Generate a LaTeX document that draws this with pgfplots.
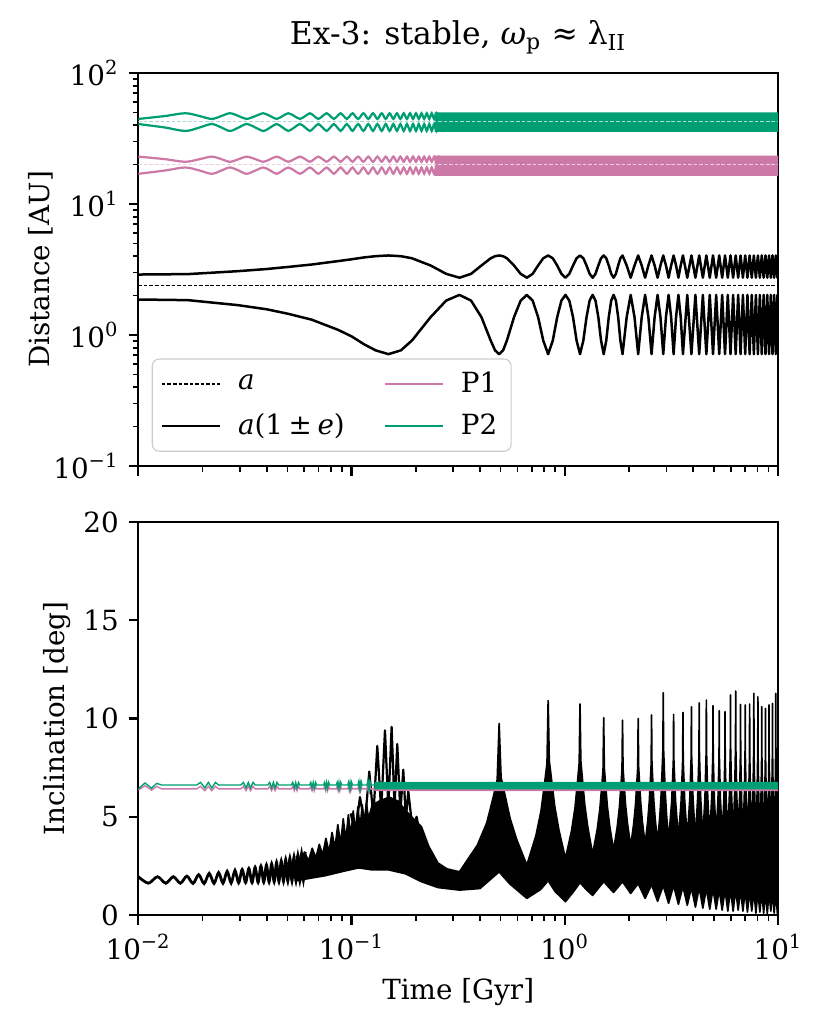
\documentclass[border=0pt]{standalone}
\usepackage{fontspec}
\setmainfont{DejaVu Serif}
\usepackage{pgfplots}
\pgfplotsset{compat=1.18}
\usepackage{pgfplotstable}
\definecolor{pone}{HTML}{CC79A7}
\definecolor{ptwo}{HTML}{009E73}

% a(1+e), a(1-e) of the inner body (AU)
\pgfplotstableread{
t up lo
0.0100 2.894 1.866
0.0171 2.916 1.845
0.0293 3.070 1.690
0.0400 3.189 1.571
0.0504 3.308 1.452
0.0650 3.451 1.309
0.0864 3.665 1.095
0.1000 3.784 0.976
0.1150 3.915 0.845
0.1300 3.998 0.762
0.1490 4.046 0.714
0.1704 3.996 0.764
0.1919 3.853 0.907
0.2348 3.392 1.369
0.2776 2.930 1.830
0.3205 2.737 2.023
0.3634 2.930 1.830
0.4063 3.392 1.369
0.4491 3.853 0.907
0.4706 3.996 0.764
0.4920 4.046 0.714
0.5134 3.996 0.764
0.5349 3.853 0.907
0.5778 3.392 1.369
0.6206 2.930 1.830
0.6635 2.737 2.023
0.7064 2.930 1.830
0.7493 3.392 1.369
0.7921 3.853 0.907
0.8350 4.046 0.714
0.8779 3.853 0.907
0.9208 3.392 1.369
0.9636 2.930 1.830
1.0065 2.737 2.023
1.0494 2.930 1.830
1.0923 3.392 1.369
1.1351 3.853 0.907
1.1780 4.046 0.714
1.2209 3.853 0.907
1.2638 3.392 1.369
1.3066 2.930 1.830
1.3495 2.737 2.023
1.3924 2.930 1.830
1.4353 3.392 1.369
1.4781 3.853 0.907
1.5210 4.046 0.714
1.5639 3.853 0.907
1.6068 3.392 1.369
1.6496 2.930 1.830
1.6925 2.737 2.023
1.7354 2.930 1.830
1.7783 3.392 1.369
1.8211 3.853 0.907
1.8640 4.046 0.714
1.9498 3.392 1.369
2.0355 2.737 2.023
2.1213 3.392 1.369
2.2070 4.046 0.714
2.2928 3.392 1.369
2.3785 2.737 2.023
2.4643 3.392 1.369
2.5500 4.046 0.714
2.6358 3.392 1.369
2.7215 2.737 2.023
2.8073 3.392 1.369
2.8930 4.046 0.714
2.9788 3.392 1.369
3.0645 2.737 2.023
3.1503 3.392 1.369
3.2360 4.046 0.714
3.3218 3.392 1.369
3.4075 2.737 2.023
3.4933 3.392 1.369
3.5790 4.046 0.714
3.7505 2.737 2.023
3.9220 4.046 0.714
4.0935 2.737 2.023
4.2650 4.046 0.714
4.4365 2.737 2.023
4.6080 4.046 0.714
4.7795 2.737 2.023
4.9510 4.046 0.714
5.1225 2.737 2.023
5.2940 4.046 0.714
5.4655 2.737 2.023
5.6370 4.046 0.714
5.8085 2.737 2.023
5.9800 4.046 0.714
6.1515 2.737 2.023
6.3230 4.046 0.714
6.4945 2.737 2.023
6.6660 4.046 0.714
6.8375 2.737 2.023
7.0090 4.046 0.714
7.1805 2.737 2.023
7.3520 4.046 0.714
7.5235 2.737 2.023
7.6950 4.046 0.714
7.8665 2.737 2.023
8.0380 4.046 0.714
8.2095 2.737 2.023
8.3810 4.046 0.714
8.5525 2.737 2.023
8.7240 4.046 0.714
8.8955 2.737 2.023
9.0670 4.046 0.714
9.2385 2.737 2.023
9.4100 4.046 0.714
9.5815 2.737 2.023
9.7530 4.046 0.714
9.9245 2.737 2.023
10.000 3.270 1.490
}\ecc

% P1, P2 distances (AU), early oscillation
\pgfplotstableread{
t p2u p2l p1u p1l
0.0100 44.6 40.8 23.0 17.0
0.0133 46.9 38.4 22.0 18.0
0.0166 49.3 36.1 21.0 19.0
0.0194 46.9 38.4 22.0 18.0
0.0221 44.6 40.8 23.0 17.0
0.0245 46.9 38.4 22.0 18.0
0.0269 49.3 36.1 21.0 19.0
0.0296 46.9 38.4 22.0 18.0
0.0322 44.6 40.8 23.0 17.0
0.0354 46.9 38.4 22.0 18.0
0.0386 49.3 36.1 21.0 19.0
0.0416 46.9 38.4 22.0 18.0
0.0445 44.6 40.8 23.0 17.0
0.0475 46.9 38.4 22.0 18.0
0.0505 49.3 36.1 21.0 19.0
0.0539 46.9 38.4 22.0 18.0
0.0573 44.6 40.8 23.0 17.0
0.0606 46.9 38.4 22.0 18.0
0.0638 49.3 36.1 21.0 19.0
0.0668 46.9 38.4 22.0 18.0
0.0698 44.6 40.8 23.0 17.0
0.0731 46.9 38.4 22.0 18.0
0.0764 49.3 36.1 21.0 19.0
0.0795 46.9 38.4 22.0 18.0
0.0826 44.6 40.8 23.0 17.0
0.0857 46.9 38.4 22.0 18.0
0.0888 49.3 36.1 21.0 19.0
0.0919 46.9 38.4 22.0 18.0
0.0950 44.6 40.8 23.0 17.0
0.0981 46.9 38.4 22.0 18.0
0.1012 49.3 36.1 21.0 19.0
0.1074 44.6 40.8 23.0 17.0
0.1136 49.3 36.1 21.0 19.0
0.1198 44.6 40.8 23.0 17.0
0.1260 49.3 36.1 21.0 19.0
0.1322 44.6 40.8 23.0 17.0
0.1384 49.3 36.1 21.0 19.0
0.1446 44.6 40.8 23.0 17.0
0.1508 49.3 36.1 21.0 19.0
0.1570 44.6 40.8 23.0 17.0
0.1632 49.3 36.1 21.0 19.0
0.1694 44.6 40.8 23.0 17.0
0.1756 49.3 36.1 21.0 19.0
0.1818 44.6 40.8 23.0 17.0
0.1880 49.3 36.1 21.0 19.0
0.1942 44.6 40.8 23.0 17.0
0.2004 49.3 36.1 21.0 19.0
0.2066 44.6 40.8 23.0 17.0
0.2128 49.3 36.1 21.0 19.0
0.2190 44.6 40.8 23.0 17.0
0.2252 49.3 36.1 21.0 19.0
0.2314 44.6 40.8 23.0 17.0
0.2376 49.3 36.1 21.0 19.0
0.2438 44.6 40.8 23.0 17.0
0.2500 49.3 36.1 21.0 19.0
0.2562 44.6 40.8 23.0 17.0
0.2624 49.3 36.1 21.0 19.0
}\pdist

% P1, P2 inclinations (deg), early bursts
\pgfplotstableread{
t g p
0.01000 6.42 6.36
0.01075 6.72 6.58
0.01155 6.45 6.36
0.01219 6.70 6.55
0.01287 6.62 6.42
0.0188 6.62 6.42
0.0196 6.75 6.55
0.0205 6.47 6.33
0.0213 6.75 6.55
0.0221 6.47 6.33
0.0230 6.75 6.55
0.0238 6.62 6.42
0.0303 6.62 6.42
0.0311 6.75 6.55
0.0320 6.47 6.33
0.0328 6.75 6.55
0.0336 6.47 6.33
0.0345 6.75 6.55
0.0353 6.62 6.42
0.0405 6.62 6.42
0.0413 6.75 6.55
0.0422 6.47 6.33
0.0430 6.75 6.55
0.0438 6.47 6.33
0.0447 6.75 6.55
0.0455 6.62 6.42
0.0522 6.62 6.42
0.0530 6.75 6.55
0.0539 6.47 6.33
0.0547 6.75 6.55
0.0555 6.47 6.33
0.0564 6.75 6.55
0.0572 6.62 6.42
0.0636 6.62 6.42
0.0644 6.75 6.55
0.0653 6.47 6.33
0.0661 6.75 6.55
0.0669 6.47 6.33
0.0678 6.75 6.55
0.0686 6.62 6.42
0.0739 6.62 6.42
0.0747 6.75 6.55
0.0756 6.47 6.33
0.0764 6.75 6.55
0.0772 6.47 6.33
0.0781 6.75 6.55
0.0789 6.62 6.42
0.0848 6.62 6.42
0.0856 6.75 6.55
0.0865 6.47 6.33
0.0873 6.75 6.55
0.0881 6.47 6.33
0.0890 6.75 6.55
0.0898 6.62 6.42
0.0959 6.62 6.42
0.0967 6.75 6.55
0.0976 6.47 6.33
0.0984 6.75 6.55
0.0992 6.47 6.33
0.1001 6.75 6.55
0.1009 6.62 6.42
0.1070 6.62 6.42
0.1078 6.75 6.55
0.1087 6.47 6.33
0.1095 6.75 6.55
0.1103 6.47 6.33
0.1112 6.75 6.55
0.1120 6.62 6.42
0.1180 6.62 6.42
0.1188 6.75 6.55
0.1197 6.47 6.33
0.1205 6.75 6.55
0.1213 6.47 6.33
0.1222 6.75 6.55
0.1230 6.62 6.42
0.1290 6.62 6.42
0.1300 6.75 6.55
}\pinc

% inclination of the inner body, early resolved oscillation
\pgfplotstableread{
t v
0.01000 1.95
0.01115 1.62
0.01230 1.95
0.01345 1.62
0.01460 1.95
0.01575 1.62
0.01690 1.98
0.01805 1.61
0.01920 2.05
0.02035 1.60
0.02150 2.12
0.02265 1.61
0.02380 2.16
0.02495 1.62
0.02610 2.22
0.02725 1.63
0.02840 2.27
0.02955 1.64
0.03070 2.32
0.03185 1.65
0.03300 2.37
0.03415 1.65
0.03530 2.43
0.03645 1.66
0.03760 2.49
0.03875 1.67
0.03990 2.55
0.04105 1.68
0.04220 2.61
0.04335 1.69
0.04450 2.68
0.04565 1.70
0.04680 2.75
0.04795 1.71
0.04910 2.82
0.05025 1.72
0.05140 2.89
0.05255 1.73
0.05370 2.95
0.05485 1.74
0.05600 3.03
0.05715 1.76
0.05830 3.12
0.05945 1.78
0.06060 3.22
}\incA

% inclination envelope: upper edge forward, lower edge backward
\pgfplotstableread{
t v
0.0550 3.0
0.0576 2.6
0.0602 3.2
0.0628 2.75
0.0654 3.4
0.0680 2.9
0.0706 3.6
0.0732 3.05
0.0758 3.9
0.0784 3.2
0.0810 4.2
0.0836 3.4
0.0862 4.6
0.0888 3.6
0.0914 4.9
0.0940 3.8
0.0966 5.1
0.0992 4.0
0.1018 5.3
0.1044 4.2
0.1070 5.5
0.1096 4.4
0.1122 5.6
0.1148 4.6
0.1174 5.7
0.1200 4.9
0.1250 5.6
0.135 5.8
0.150 6.0
0.165 5.8
0.180 5.3
0.195 4.9
0.2125 4.5
0.230 3.5
0.254 2.65
0.280 2.35
0.3205 2.2
0.3891 3.56
0.4303 4.69
0.4611 5.98
0.4817 6.88
0.4920 9.75
0.5023 7.01
0.5229 6.15
0.5537 4.92
0.5949 3.84
0.6635 2.54
0.7321 4.05
0.7733 5.30
0.8041 6.73
0.8247 7.73
0.8350 10.91
0.8453 7.86
0.8659 6.90
0.8967 5.53
0.9379 4.33
1.0065 2.88
1.0751 4.29
1.1163 5.47
1.1471 6.81
1.1677 7.75
1.1780 10.74
1.1883 7.84
1.2089 6.92
1.2397 5.62
1.2809 4.48
1.3495 3.10
1.4181 4.35
1.4593 5.39
1.4901 6.57
1.5107 7.40
1.5210 10.04
1.5313 7.48
1.5519 6.67
1.5827 5.52
1.6239 4.51
1.6925 3.30
1.7611 4.49
1.8023 5.48
1.8331 6.61
1.8537 7.40
1.8640 9.92
1.8743 7.48
1.8949 6.71
1.9257 5.62
1.9669 4.66
2.0355 3.50
2.1041 4.67
2.1453 5.65
2.1761 6.75
2.1967 7.53
2.2070 10.00
2.2173 7.57
2.2379 6.80
2.2687 5.71
2.3099 4.75
2.3785 3.60
2.4471 4.78
2.4883 5.77
2.5191 6.89
2.5397 7.68
2.5500 10.18
2.5603 7.72
2.5809 6.94
2.6117 5.84
2.6529 4.87
2.7215 3.70
2.7901 5.07
2.8313 6.21
2.8621 7.51
2.8827 8.42
2.8930 11.32
2.9033 8.46
2.9239 7.56
2.9547 6.28
2.9959 5.15
3.0645 3.80
3.1674 5.72
3.2257 7.77
3.2360 10.21
3.2463 7.81
3.3046 5.79
3.4075 3.90
3.5104 5.82
3.5687 7.87
3.5790 10.31
3.5893 7.87
3.6476 5.82
3.7505 3.90
3.8534 5.91
3.9117 8.05
3.9220 10.60
3.9323 8.05
3.9906 5.91
4.0935 3.90
4.1964 5.97
4.2547 8.18
4.2650 10.80
4.2753 8.18
4.3336 5.97
4.4365 3.90
4.5394 6.01
4.5977 8.26
4.6080 10.94
4.6183 8.26
4.6766 6.01
4.7795 4.00
4.8824 6.00
4.9407 8.12
4.9510 10.65
4.9613 8.12
5.0196 6.00
5.1225 4.00
5.2254 5.92
5.2837 7.97
5.2940 10.40
5.3043 7.97
5.3626 5.92
5.4655 4.00
5.5684 5.90
5.6267 7.94
5.6370 10.35
5.6473 7.94
5.7056 5.90
5.8085 4.00
5.9114 6.16
5.9697 8.46
5.9800 11.20
5.9903 8.46
6.0486 6.16
6.1515 4.00
6.2544 6.22
6.3127 8.59
6.3230 11.40
6.3333 8.59
6.3916 6.22
6.4945 4.00
6.5974 6.02
6.6557 8.17
6.6660 10.72
6.6763 8.17
6.7346 6.02
6.8375 4.00
6.9404 6.01
6.9987 8.15
7.0090 10.69
7.0193 8.15
7.0776 6.01
7.1805 4.00
7.2834 6.02
7.3417 8.18
7.3520 10.74
7.3623 8.18
7.4206 6.02
7.5235 4.00
7.6264 6.18
7.6847 8.51
7.6950 11.28
7.7053 8.51
7.7636 6.18
7.8665 4.00
7.9694 6.13
8.0277 8.41
8.0380 11.11
8.0483 8.41
8.1066 6.13
8.2095 4.00
8.3124 5.98
8.3707 8.09
8.3810 10.60
8.3913 8.09
8.4496 5.98
8.5525 4.00
8.6554 5.96
8.7137 8.04
8.7240 10.52
8.7343 8.04
8.7926 5.96
8.8955 4.00
8.9984 6.01
9.0567 8.15
9.0670 10.69
9.0773 8.15
9.1356 6.01
9.2385 4.00
9.3414 6.03
9.3997 8.20
9.4100 10.77
9.4203 8.20
9.4786 6.03
9.5815 4.00
9.6844 6.18
9.7427 8.51
9.7530 11.28
9.7633 8.51
9.8216 6.18
10.000 4.20
10.000 0.30
9.9245 0.05
9.753 1.2
9.5815 0.1
9.41 1.2
9.2385 0.2
9.067 1.2
8.8955 0.08
8.724 1.2
8.5525 0.1
8.381 1.2
8.2095 0.15
8.038 1.2
7.8665 0.1
7.695 1.25
7.5235 0.2
7.352 1.25
7.1805 0.15
7.009 1.25
6.8375 0.2
6.666 1.3
6.4945 0.25
6.323 1.3
6.1515 0.2
5.98 1.3
5.8085 0.2
5.637 1.3
5.4655 0.25
5.294 1.3
5.1225 0.3
4.951 1.35
4.7795 0.3
4.608 1.35
4.4365 0.35
4.265 1.4
4.0935 0.4
3.922 1.4
3.7505 0.5
3.579 1.45
3.4075 0.55
3.236 1.5
3.0645 0.6
2.893 1.5
2.7215 0.7
2.55 1.55
2.3785 0.85
2.207 1.6
2.0355 1.1
1.864 1.7
1.6925 1.15
1.521 1.7
1.3495 1.0
1.26 1.3
1.178 1.65
1.10 1.2
1.0065 0.68
0.90 1.2
0.835 1.75
0.77 1.3
0.6635 0.85
0.55 1.6
0.492 2.2
0.40 1.35
0.3205 1.27
0.254 1.4
0.2125 1.7
0.179 2.1
0.149 2.3
0.125 2.3
0.108 2.4
0.0935 2.25
0.075 2.0
0.055 1.75
}\incPoly

\tikzset{adash/.style={line width=0.5pt, dash pattern=on 1.3pt off 0.7pt}}

\begin{document}
\begin{tikzpicture}
\path[use as bounding box] (-49.8pt,-41.4pt) rectangle (249.72pt,329.5pt);

% ---------------- top panel ----------------
\begin{axis}[
  at={(0pt,161.7pt)}, anchor=south west,
  scale only axis, width=230.4pt, height=141.5pt,
  xmode=log, xmin=0.01, xmax=10,
  ymode=log, ymin=0.1, ymax=100,
  xtick={0.01,0.1,1,10},
  minor xtick={0.02,0.03,0.04,0.05,0.06,0.07,0.08,0.09,0.2,0.3,0.4,0.5,0.6,0.7,0.8,0.9,2,3,4,5,6,7,8,9},
  xticklabels={},
  ytick={0.1,1,10,100},
  yticklabels={10\textsuperscript{−1},10\textsuperscript{0},10\textsuperscript{1},10\textsuperscript{2}},
  minor ytick={0.2,0.3,0.4,0.5,0.6,0.7,0.8,0.9,2,3,4,5,6,7,8,9,20,30,40,50,60,70,80,90},
  tick pos=left, tick align=outside,
  major tick length=3.5pt, minor tick length=2pt,
  major tick style={black, line width=0.8pt},
  minor tick style={black, line width=0.6pt},
  axis line style={line width=0.8pt},
  tick label style={font=\fontsize{10}{12}\selectfont},
  label style={font=\fontsize{10}{12}\selectfont},
  ylabel={Distance [AU]},
  ylabel style={at={(axis description cs:-0.152,0.5)}, anchor=center},
  title={Ex-3: stable, \textit{ω}\textsubscript{p} ≈ λ\textsubscript{II}},
  title style={font=\fontsize{11.3}{13.5}\selectfont, yshift=-2.7pt},
  legend columns=2,
  legend cell align=left,
  legend style={at={(0.021,0.036)}, anchor=south west,
    draw=black!20, rounded corners=2.5pt, fill=white,
    font=\fontsize{10}{12}\selectfont,
    inner xsep=3pt, inner ysep=2.5pt, row sep=2.2pt,
    /tikz/every odd column/.append style={column sep=4pt},
    /tikz/every even column/.append style={column sep=12pt}},
]
\addlegendimage{legend image code/.code={\draw[black, line width=0.5pt, dash pattern=on 1.3pt off 0.7pt] (0pt,0pt) -- (21pt,0pt);}}
\addlegendentry{\textit{a}}
\addlegendimage{legend image code/.code={\draw[pone, line width=0.8pt] (0pt,0pt) -- (21pt,0pt);}}
\addlegendentry{P1}
\addlegendimage{legend image code/.code={\draw[black, line width=0.9pt] (0pt,0pt) -- (21pt,0pt);}}
\addlegendentry{\textit{a}(1\hspace{0.2em}±\hspace{0.2em}\textit{e})}
\addlegendimage{legend image code/.code={\draw[ptwo, line width=0.8pt] (0pt,0pt) -- (21pt,0pt);}}
\addlegendentry{P2}

\addplot[forget plot, black, adash] coordinates {(0.01,2.38) (10,2.38)};
\addplot[forget plot, black, line width=0.9pt, line join=round] table[x=t,y=up]{\ecc};
\addplot[forget plot, black, line width=0.9pt, line join=round] table[x=t,y=lo]{\ecc};

% P1
\addplot[forget plot, fill=pone, draw=none] coordinates {(0.245,16.4) (10,16.4) (10,23.4) (0.245,23.4) (0.245,16.4)};
\addplot[forget plot, pone, line width=0.8pt, smooth] table[x=t,y=p1u]{\pdist};
\addplot[forget plot, pone, line width=0.8pt, smooth] table[x=t,y=p1l]{\pdist};
\addplot[forget plot, pone!35, adash] coordinates {(0.01,20) (10,20)};
% P2
\addplot[forget plot, fill=ptwo, draw=none] coordinates {(0.245,35.6) (10,35.6) (10,50.1) (0.245,50.1) (0.245,35.6)};
\addplot[forget plot, ptwo, line width=0.8pt, smooth] table[x=t,y=p2u]{\pdist};
\addplot[forget plot, ptwo, line width=0.8pt, smooth] table[x=t,y=p2l]{\pdist};
\addplot[forget plot, ptwo!35, adash] coordinates {(0.01,42.7) (10,42.7)};
\end{axis}

% ---------------- bottom panel ----------------
\begin{axis}[
  at={(0pt,0pt)}, anchor=south west,
  scale only axis, width=230.4pt, height=141.5pt,
  xmode=log, xmin=0.01, xmax=10,
  ymin=0, ymax=20,
  xtick={0.01,0.1,1,10},
  minor xtick={0.02,0.03,0.04,0.05,0.06,0.07,0.08,0.09,0.2,0.3,0.4,0.5,0.6,0.7,0.8,0.9,2,3,4,5,6,7,8,9},
  xticklabels={10\textsuperscript{−2},10\textsuperscript{−1},10\textsuperscript{0},10\textsuperscript{1}},
  ytick={0,5,10,15,20},
  yticklabels={0,5,10,15,20},
  tick pos=left, tick align=outside,
  major tick length=3.5pt, minor tick length=2pt,
  major tick style={black, line width=0.8pt},
  minor tick style={black, line width=0.6pt},
  axis line style={line width=0.8pt},
  tick label style={font=\fontsize{10}{12}\selectfont},
  label style={font=\fontsize{10}{12}\selectfont},
  xlabel={Time [Gyr]},
  ylabel={Inclination [deg]},
  ylabel style={at={(axis description cs:-0.127,0.5)}, anchor=center},
]
\addplot[forget plot, fill=black, draw=black, line width=0.6pt, line join=round] table[x=t,y=v]{\incPoly};
\addplot[forget plot, black, line width=1.0pt, smooth] table[x=t,y=v]{\incA};
\addplot[forget plot, black, line width=0.8pt, line join=round] coordinates {
(0.0990,5.17) (0.1042,4.2) (0.1095,6.0) (0.1153,4.6) (0.1211,7.3) (0.1265,5.0)
(0.1320,8.6) (0.1377,5.3) (0.1434,9.4) (0.1487,5.5) (0.1541,9.58) (0.1590,5.5)
(0.1638,8.7) (0.1693,5.2) (0.1748,7.4) (0.1797,4.9) (0.1845,6.3) (0.1930,4.4)
(0.2018,5.0) (0.2100,4.0)};

% P1
\addplot[forget plot, fill=pone, draw=none] coordinates {(0.128,6.31) (10,6.31) (10,6.45) (0.128,6.45) (0.128,6.31)};
\addplot[forget plot, pone, line width=0.5pt] table[x=t,y=p]{\pinc};
% P2
\addplot[forget plot, fill=ptwo, draw=none] coordinates {(0.128,6.40) (10,6.40) (10,6.78) (0.128,6.78) (0.128,6.40)};
\addplot[forget plot, ptwo, line width=0.5pt] table[x=t,y=g]{\pinc};
\end{axis}
\end{tikzpicture}
\end{document}
